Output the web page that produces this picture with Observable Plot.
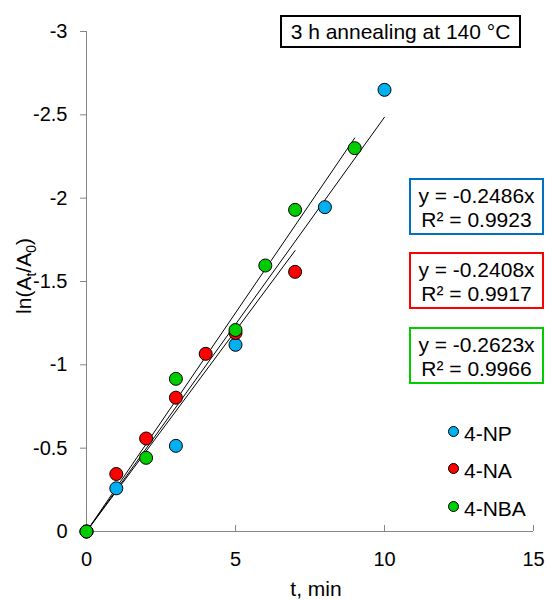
<!DOCTYPE html>
<html><head><meta charset="utf-8">
<script src="https://cdn.jsdelivr.net/npm/d3@7"></script>
<script src="https://cdn.jsdelivr.net/npm/@observablehq/plot@0.6"></script>
<style>
body{margin:0;background:#fff;font-family:"Liberation Sans",Arial,sans-serif;}
#wrap{position:relative;width:547px;height:601px;}
.box{position:absolute;box-sizing:border-box;text-align:center;font-size:21px;color:#000;background:#fff;}
.leg{position:absolute;font-size:21px;display:flex;align-items:center;height:20px;}
.leg span.c{display:inline-block;width:9px;height:9px;border-radius:50%;border:1px solid #000;margin-right:5px;}
.leg span.t{position:relative;top:3px;}
</style></head>
<body><div id="wrap"></div>
<script>
// Data
const series = ["4-NP", "4-NA", "4-NBA"];
const colors = ["#00B0F0", "#FF0000", "#00CC00"];
const boxColors = ["#0070C0", "#FF0000", "#00CC00"];
const tNP = [0, 1, 3, 5, 8, 10];
const yNP = [0, -0.259, -0.514, -1.12, -1.946, -2.65];
const tNA = [0, 1, 2, 3, 4, 5, 7];
const yNA = [0, -0.345, -0.558, -0.803, -1.066, -1.191, -1.558];
const tNBA = [0, 2, 3, 5, 6, 7, 9];
const yNBA = [0, -0.442, -0.916, -1.209, -1.596, -1.93, -2.30];
const slopes = [-0.2486, -0.2408, -0.2623];
const r2 = ["0.9923", "0.9917", "0.9966"];
const xTicks = [0, 5, 10, 15];
const yTicks = [-3, -2.5, -2, -1.5, -1, -0.5, 0];
const title = "3 h annealing at 140 °C";

const ts = [tNP, tNA, tNBA], ys = [yNP, yNA, yNBA];
const pts = [];
series.forEach((s, i) => ts[i].forEach((t, j) => pts.push({s, t, v: ys[i][j], c: colors[i]})));
const trends = [];
series.forEach((s, i) => {
  const tmax = d3.max(ts[i]);
  trends.push({s, t: 0, v: 0}, {s, t: tmax, v: slopes[i] * tmax});
});

const chart = Plot.plot({
  width: 547, height: 601,
  marginLeft: 86, marginRight: 14, marginTop: 31, marginBottom: 70,
  style: {fontFamily: "'Liberation Sans', Arial, sans-serif", fontSize: "20px", color: "#000", background: "#fff", overflow: "visible"},
  x: {domain: [0, 15]},
  y: {domain: [0, -3]},
  marks: [
    Plot.ruleX([0], {stroke: "#868686", strokeWidth: 1}),
    Plot.ruleY([0], {stroke: "#868686", strokeWidth: 1}),
    Plot.axisY(yTicks, {tickSize: 6, tickPadding: 13, tickFormat: d => String(d), stroke: "#868686", fill: "#000", label: null}),
    Plot.axisX(xTicks, {tickSize: -6, tickPadding: 26, tickFormat: d => String(d), stroke: "#868686", fill: "#000", label: null}),
    Plot.line(trends, {x: "t", y: "v", z: "s", stroke: "#000", strokeWidth: 1}),
    Plot.dot(pts, {x: "t", y: "v", r: 6.5, fill: "c", stroke: "#000", strokeWidth: 1})
  ]
});
const wrap = document.getElementById("wrap");
wrap.appendChild(chart);

const svg = d3.select(chart);
// y label with subscripts
const yl = svg.append("text").attr("transform", "translate(31,276) rotate(-90)")
  .attr("text-anchor", "middle").attr("font-size", 21).attr("fill", "#000");
yl.append("tspan").text("ln(A");
yl.append("tspan").text("t").attr("font-size", 14).attr("dy", 5);
yl.append("tspan").text("/A").attr("dy", -5);
yl.append("tspan").text("0").attr("font-size", 14).attr("dy", 5);
yl.append("tspan").text(")").attr("dy", -5);
// x label
svg.append("text").attr("x", 316).attr("y", 596).attr("text-anchor", "middle")
  .attr("font-size", 21).attr("fill", "#000").text("t, min");

// title box
const tb = document.createElement("div");
tb.className = "box";
Object.assign(tb.style, {left: "280px", top: "15px", width: "241px", height: "33px", border: "2px solid #000", lineHeight: "29px"});
tb.textContent = title;
wrap.appendChild(tb);

// equation boxes
const tops = [178, 252, 327];
series.forEach((s, i) => {
  const b = document.createElement("div");
  b.className = "box";
  Object.assign(b.style, {left: "409px", top: tops[i] + "px", width: "135px", height: "57px", border: "2px solid " + boxColors[i], lineHeight: "23.5px", paddingTop: "4px"});
  b.innerHTML = "y = " + slopes[i] + "x<br>R² = " + r2[i];
  wrap.appendChild(b);
});

// legend
const legY = [431, 468, 506];
series.forEach((s, i) => {
  const l = document.createElement("div");
  l.className = "leg";
  Object.assign(l.style, {left: "448px", top: (legY[i] - 10) + "px"});
  l.innerHTML = `<span class="c" style="background:${colors[i]}"></span><span class="t">${s}</span>`;
  wrap.appendChild(l);
});
</script></body></html>
